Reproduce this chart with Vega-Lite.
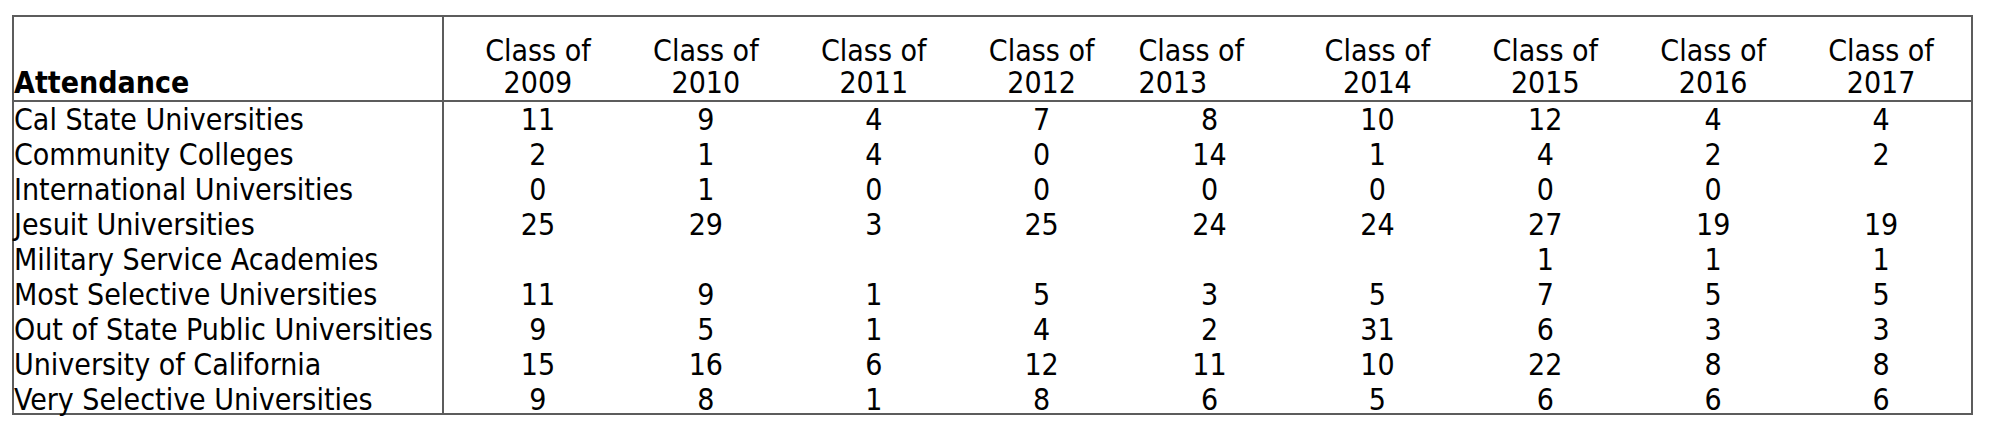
{
  "$schema": "https://vega.github.io/schema/vega-lite/v6.json",
  "width": 1997,
  "height": 433,
  "autosize": {"type": "fit", "contains": "padding"},
  "padding": {"left": 12, "top": 15, "right": 24, "bottom": 18},
  "background": "white",
  "config": {
    "view": {"stroke": "#5c5c5c", "strokeWidth": 2},
    "text": {"font": "DejaVu Sans Condensed", "fontSize": 30, "color": "black"}
  },
  "datasets": {
    "attendance": [
      {"Attendance": "Cal State Universities", "2009": 11, "2010": 9, "2011": 4, "2012": 7, "2013": 8, "2014": 10, "2015": 12, "2016": 4, "2017": 4},
      {"Attendance": "Community Colleges", "2009": 2, "2010": 1, "2011": 4, "2012": 0, "2013": 14, "2014": 1, "2015": 4, "2016": 2, "2017": 2},
      {"Attendance": "International Universities", "2009": 0, "2010": 1, "2011": 0, "2012": 0, "2013": 0, "2014": 0, "2015": 0, "2016": 0},
      {"Attendance": "Jesuit Universities", "2009": 25, "2010": 29, "2011": 3, "2012": 25, "2013": 24, "2014": 24, "2015": 27, "2016": 19, "2017": 19},
      {"Attendance": "Military Service Academies", "2015": 1, "2016": 1, "2017": 1},
      {"Attendance": "Most Selective Universities", "2009": 11, "2010": 9, "2011": 1, "2012": 5, "2013": 3, "2014": 5, "2015": 7, "2016": 5, "2017": 5},
      {"Attendance": "Out of State Public Universities", "2009": 9, "2010": 5, "2011": 1, "2012": 4, "2013": 2, "2014": 31, "2015": 6, "2016": 3, "2017": 3},
      {"Attendance": "University of California", "2009": 15, "2010": 16, "2011": 6, "2012": 12, "2013": 11, "2014": 10, "2015": 22, "2016": 8, "2017": 8},
      {"Attendance": "Very Selective Universities", "2009": 9, "2010": 8, "2011": 1, "2012": 8, "2013": 6, "2014": 5, "2015": 6, "2016": 6, "2017": 6}
    ],
    "classes": [
      {"Class": "2009"}, {"Class": "2010"}, {"Class": "2011"}, {"Class": "2012"}, {"Class": "2013"},
      {"Class": "2014"}, {"Class": "2015"}, {"Class": "2016"}, {"Class": "2017"}
    ]
  },
  "resolve": {"scale": {"x": "independent"}},
  "layer": [
    {
      "layer": [
        {
          "data": {"name": "attendance"},
          "mark": {"type": "text", "align": "left", "baseline": "alphabetic", "dx": 1, "dy": 11.5},
          "encoding": {
            "x": {"datum": "Attendance", "type": "nominal", "bandPosition": 0, "axis": null,
                  "scale": {"type": "band", "paddingInner": 0, "paddingOuter": 0, "range": [0, 430]}},
            "y": {"field": "Attendance", "type": "nominal", "axis": null,
                  "scale": {"type": "band", "domain": ["Cal State Universities", "Community Colleges", "International Universities", "Jesuit Universities", "Military Service Academies", "Most Selective Universities", "Out of State Public Universities", "University of California", "Very Selective Universities"], "paddingInner": 0, "paddingOuter": 0, "range": [85, 400]}},
            "text": {"field": "Attendance", "type": "nominal"}
          }
        },
        {
          "data": {"values": [{}]},
          "mark": {"type": "text", "align": "left", "baseline": "alphabetic", "fontWeight": "bold", "dx": 1, "dy": -8},
          "encoding": {
            "x": {"datum": "Attendance", "type": "nominal", "bandPosition": 0, "axis": null},
            "y": {"datum": "Cal State Universities", "type": "nominal", "bandPosition": 0, "axis": null},
            "text": {"value": "Attendance"}
          }
        },
        {
          "data": {"values": [{}]},
          "mark": {"type": "rule", "color": "#5c5c5c", "strokeWidth": 2},
          "encoding": {
            "x": {"datum": "Attendance", "type": "nominal", "bandPosition": 1, "axis": null}
          }
        }
      ]
    },
    {
      "layer": [
        {
          "data": {"name": "attendance"},
          "transform": [
            {"fold": ["2009", "2010", "2011", "2012", "2013", "2014", "2015", "2016", "2017"], "as": ["Class", "Students"]},
            {"filter": "isValid(datum.Students)"}
          ],
          "mark": {"type": "text", "align": "center", "baseline": "alphabetic", "dy": 11.5},
          "encoding": {
            "x": {"field": "Class", "type": "nominal", "axis": null,
                  "scale": {"type": "band", "domain": ["2009", "2010", "2011", "2012", "2013", "2014", "2015", "2016", "2017"], "paddingInner": 0, "paddingOuter": 0, "range": [441, 1952]}},
            "y": {"field": "Attendance", "type": "nominal", "axis": null},
            "text": {"field": "Students", "type": "nominal"}
          }
        },
        {
          "data": {"name": "classes"},
          "transform": [{"filter": "datum.Class != '2013'"}],
          "layer": [
            {
              "mark": {"type": "text", "align": "center", "baseline": "alphabetic", "dy": -8},
              "encoding": {
                "x": {"field": "Class", "type": "nominal", "axis": null},
                "y": {"datum": "Cal State Universities", "type": "nominal", "bandPosition": 0, "axis": null},
                "text": {"field": "Class", "type": "nominal"}
              }
            },
            {
              "mark": {"type": "text", "align": "center", "baseline": "alphabetic", "dy": -40},
              "encoding": {
                "x": {"field": "Class", "type": "nominal", "axis": null},
                "y": {"datum": "Cal State Universities", "type": "nominal", "bandPosition": 0, "axis": null},
                "text": {"value": "Class of"}
              }
            }
          ]
        },
        {
          "data": {"name": "classes"},
          "transform": [{"filter": "datum.Class == '2013'"}],
          "layer": [
            {
              "mark": {"type": "text", "align": "left", "baseline": "alphabetic", "dx": -71, "dy": -8},
              "encoding": {
                "x": {"field": "Class", "type": "nominal", "axis": null},
                "y": {"datum": "Cal State Universities", "type": "nominal", "bandPosition": 0, "axis": null},
                "text": {"field": "Class", "type": "nominal"}
              }
            },
            {
              "mark": {"type": "text", "align": "left", "baseline": "alphabetic", "dx": -71, "dy": -40},
              "encoding": {
                "x": {"field": "Class", "type": "nominal", "axis": null},
                "y": {"datum": "Cal State Universities", "type": "nominal", "bandPosition": 0, "axis": null},
                "text": {"value": "Class of"}
              }
            }
          ]
        }
      ]
    },
    {
      "data": {"values": [{}]},
      "mark": {"type": "rule", "color": "#5c5c5c", "strokeWidth": 2},
      "encoding": {
        "y": {"datum": "Cal State Universities", "type": "nominal", "bandPosition": 0, "axis": null}
      }
    }
  ]
}
